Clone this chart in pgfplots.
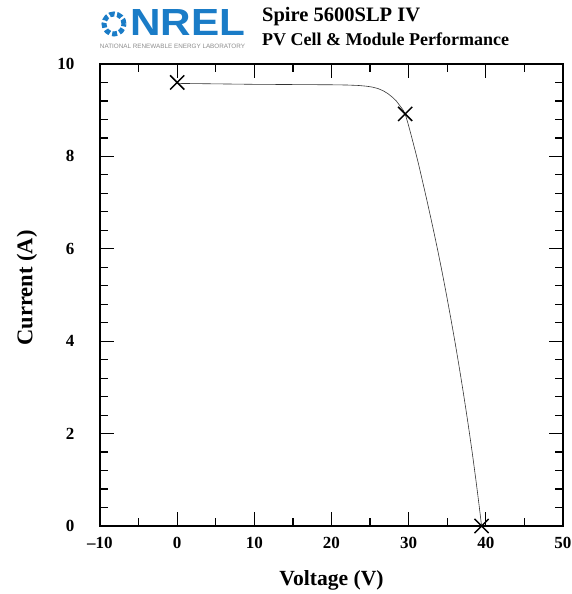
\documentclass[border=0pt]{standalone}
\usepackage{fontspec}
\setmainfont{Liberation Serif}
\newfontfamily\logofont{Liberation Sans}
\usepackage{graphicx}
\usepackage{pgfplots}
\pgfplotsset{compat=1.18}
\definecolor{nrelblue}{HTML}{1A7CC7}

\begin{document}
\begin{tikzpicture}
\useasboundingbox (-100pt,-68pt) rectangle (471pt,526pt);
\begin{axis}[
  scale only axis, width=463pt, height=462pt,
  xmin=-10, xmax=50, ymin=0, ymax=10,
  xtick={-10,0,...,50}, ytick={0,2,...,10},
  xticklabels={--10,0,10,20,30,40,50},
  minor x tick num=1, minor y tick num=4,
  tick align=inside, major tick length=14pt, minor tick length=8pt,
  tick style={black, line width=1.2pt},
  axis line style={line width=1.2pt},
  tick label style={font=\fontsize{17}{17}\selectfont\bfseries},
  /pgf/number format/assume math mode=true,
  yticklabel style={xshift=-22pt},
  xticklabel style={yshift=-8pt},
  clip=false,
]
% measured IV curve
\addplot[black!80, line width=0.6pt] coordinates {
  (0,9.58) (5,9.57) (10,9.56) (15,9.555) (20,9.55) (22,9.545) (23.5,9.535)
  (24.5,9.52) (25.3,9.50) (26.0,9.47) (26.7,9.42) (27.3,9.36) (27.9,9.28)
  (28.4,9.20) (28.85,9.10) (29.25,9.01) (29.55,8.92) (29.9,8.72) (30.26,8.5)
  (30.65,8.25) (31.035,8.0) (31.4,7.75) (31.745,7.5) (32.09,7.25) (32.43,7.0)
  (32.76,6.75) (33.09,6.5) (33.41,6.25) (33.725,6.0) (34.03,5.75) (34.33,5.5)
  (34.62,5.25) (34.905,5.0) (35.18,4.75) (35.455,4.5) (35.72,4.25) (35.985,4.0)
  (36.24,3.75) (36.49,3.5) (36.735,3.25) (36.975,3.0) (37.21,2.75) (37.44,2.5)
  (37.665,2.25) (37.885,2.0) (38.1,1.75) (38.31,1.5) (38.51,1.25) (38.71,1.0)
  (38.9,0.75) (39.09,0.5) (39.27,0.25) (39.45,0)
};
% Isc, Pmax, Voc
\addplot[only marks, mark=x, mark size=10pt, line width=1.5pt, black]
  coordinates {(0,9.6) (29.55,8.92) (39.45,0)};
\end{axis}
% axis labels
\node[font=\fontsize{21.6}{21.6}\selectfont\bfseries] at (231.5pt,-54pt) {Voltage (V)};
\node[font=\fontsize{22.5}{22.5}\selectfont\bfseries, rotate=90] at (-73pt,238pt) {Current (A)};
% header
\draw[nrelblue, line width=5pt, dash pattern=on 5pt off 2.5pt] (14pt,502pt) circle (10pt);
\node[anchor=base west, inner sep=0pt, text=nrelblue] at (30pt,490pt)
  {\resizebox{115pt}{26pt}{\logofont\bfseries NREL}};
\node[inner sep=0pt, text=black!45] at (72.5pt,479.5pt)
  {\resizebox{145pt}{!}{\logofont\fontsize{5}{5}\selectfont NATIONAL RENEWABLE ENERGY LABORATORY}};
\node[anchor=west, inner sep=0pt, font=\fontsize{20.5}{20.5}\selectfont\bfseries] at (162pt,509pt) {Spire 5600SLP IV};
\node[anchor=west, inner sep=0pt, font=\fontsize{18}{18}\selectfont\bfseries] at (162pt,487pt) {PV Cell \& Module Performance};
\end{tikzpicture}
\end{document}
